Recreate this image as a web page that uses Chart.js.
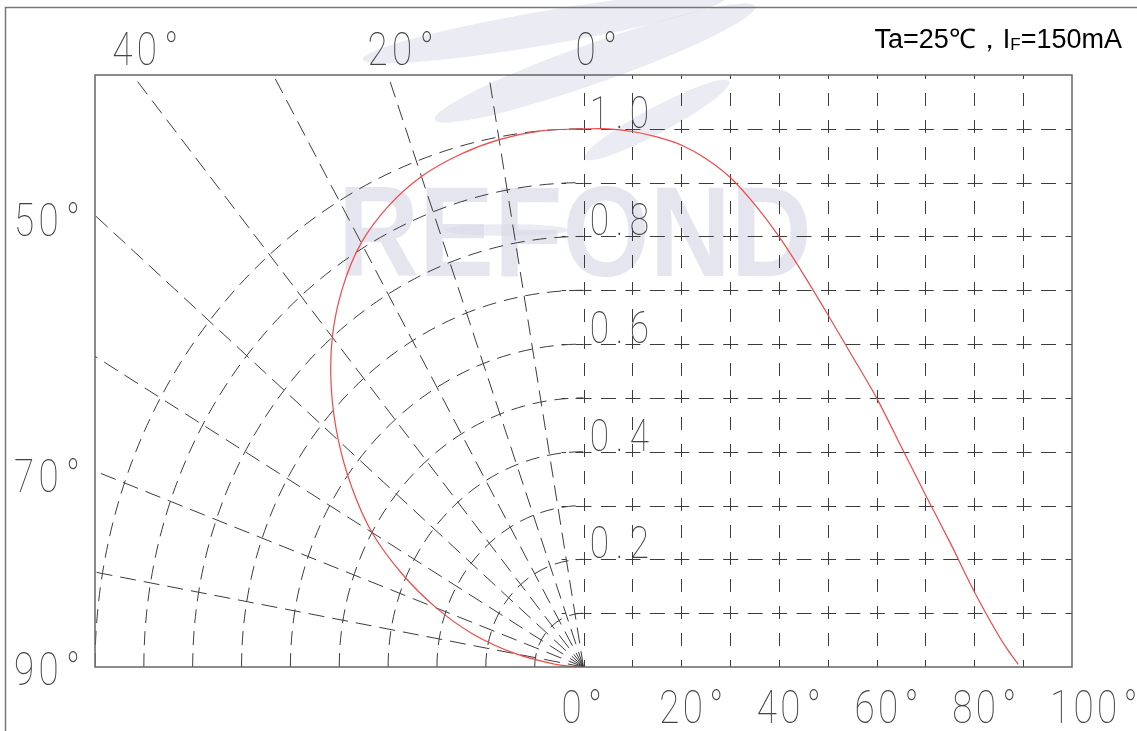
<!DOCTYPE html>
<html>
<head>
<meta charset="utf-8">
<title>Radiation pattern</title>
<script src="https://cdn.jsdelivr.net/npm/chart.js@4.4.1/dist/chart.umd.min.js"></script>
<style>
  html, body { margin: 0; padding: 0; background: #fff; }
  #wrap { width: 1137px; height: 731px; }
</style>
</head>
<body>
<div id="wrap"><canvas id="chart" width="1137" height="731"></canvas></div>
<script>
// ==============================
// DATA
// ==============================
// relative luminous intensity vs. angle
const angles = [0, 5, 10, 15, 20, 25, 30, 35, 40, 45, 50, 55, 60, 65, 70, 75, 80, 85, 87, 89];
const intensity = [1.0, 1.0, 0.995, 0.985, 0.97, 0.945, 0.91, 0.86, 0.8, 0.73, 0.655, 0.578, 0.5, 0.41, 0.32, 0.232, 0.14, 0.058, 0.03, 0.005];

// axis / grid labels
const bottomTicks = [0, 20, 40, 60, 80, 100];
const bottomLabels = ["0°", "20°", "40°", "60°", "80°", "100°"];
const radiusTicks = [0.2, 0.4, 0.6, 0.8, 1.0];
const radiusLabels = ["0.2", "0.4", "0.6", "0.8", "1.0"];
const polarLabelAngles = [0, 20, 40, 50, 70, 90];
const polarLabels = ["0°", "20°", "40°", "50°", "70°", "90°"];

const gridDegrees = [0, 10, 20, 30, 40, 50, 60, 70, 80, 90];
const gridLevels = [0.1, 0.2, 0.3, 0.4, 0.5, 0.6, 0.7, 0.8, 0.9, 1.0];
const spokeAngles = [10, 20, 30, 40, 50, 60, 70, 80];
const rings = [0.1, 0.2, 0.3, 0.4, 0.5, 0.6, 0.7, 0.8, 0.9, 1.0];

const conditionText = ["Ta=25℃，I", "F", "=150mA"];

// ==============================
// HELPERS
// ==============================
const rad = (d) => d * Math.PI / 180;

// the left half is the same curve in polar form; radius 1 = 100 x-units
const cartesianPoints = angles.map((a, i) => ({ x: a, y: intensity[i] }));
const polarPoints = angles.map((a, i) => ({
  x: -100 * intensity[i] * Math.sin(rad(a)),
  y: intensity[i] * Math.cos(rad(a)),
}));

const OUTER_FONT = '100 46px Roboto, "DejaVu Sans", sans-serif';
const INNER_FONT = '100 44px Roboto, "DejaVu Sans", sans-serif';
const SQUEEZE = 0.8;
const OUTER_CELL = 24.5;
const BOTTOM_CELL = 23.5;
const INNER_CELL = 20;

// CAD-like monospaced label: each char centred in its own cell
function monoText(ctx, str, firstCenter, baseline, cell) {
  [...str].forEach((ch, i) => {
    ctx.save();
    ctx.translate(firstCenter + i * cell, baseline);
    ctx.scale(SQUEEZE, 1);
    ctx.textAlign = "center";
    ctx.fillText(ch, 0, 0);
    ctx.restore();
  });
}

// ==============================
// PLUGINS
// ==============================
const backdrop = {
  id: "backdrop",
  beforeDatasetsDraw(chart) {
    const { ctx, chartArea: a, scales: { x, y } } = chart;
    const ox = x.getPixelForValue(0);
    const oy = y.getPixelForValue(0);
    const rx = ox - x.getPixelForValue(-100);
    const ry = oy - y.getPixelForValue(1);

    ctx.save();

    // faint logo watermark
    ctx.fillStyle = "rgba(222,223,235,0.6)";
    [[545, 28, 185, 17, -0.17], [595, 63, 170, 20, -0.34], [657, 120, 82, 13, -0.49], [507, 230, 62, 6, 0]]
      .forEach(([cx, cy, ex, ey, r]) => {
        ctx.beginPath();
        ctx.ellipse(cx, cy, ex, ey, r, 0, Math.PI * 2);
        ctx.fill();
      });
    ctx.fillStyle = "rgba(218,218,234,0.7)";
    ctx.font = 'bold 122px "Liberation Sans", sans-serif';
    ctx.textBaseline = "alphabetic";
    ctx.save();
    ctx.translate(338, 276);
    ctx.scale(0.92, 1.05);
    ctx.fillText("REFOND", 0, 0);
    ctx.restore();

    ctx.beginPath();
    ctx.rect(a.left, a.top, a.right - a.left, a.bottom - a.top);
    ctx.clip();

    ctx.strokeStyle = "#3c3c3c";
    ctx.lineWidth = 1;

    // cartesian grid, right half
    ctx.setLineDash([13, 14]);
    ctx.lineDashOffset = 6;
    ctx.beginPath();
    gridDegrees.forEach((d) => {
      const px = Math.round(x.getPixelForValue(d)) + 0.5;
      ctx.moveTo(px, oy);
      ctx.lineTo(px, a.top);
    });
    ctx.stroke();

    ctx.setLineDash([15, 9.45]);
    ctx.lineDashOffset = 7;
    ctx.beginPath();
    gridLevels.forEach((v) => {
      const py = Math.round(y.getPixelForValue(v)) + 0.5;
      ctx.moveTo(ox, py);
      ctx.lineTo(x.getPixelForValue(-4.5), py);
      ctx.moveTo(ox, py);
      ctx.lineTo(a.right, py);
    });
    ctx.stroke();

    // polar grid, left half
    ctx.setLineDash([16, 8]);
    ctx.lineDashOffset = 0;
    ctx.beginPath();
    spokeAngles.forEach((d) => {
      ctx.moveTo(ox, oy);
      ctx.lineTo(ox - Math.sin(rad(d)) * rx * 2, oy - Math.cos(rad(d)) * ry * 2);
    });
    ctx.stroke();

    ctx.setLineDash([14, 8]);
    rings.forEach((r) => {
      ctx.beginPath();
      ctx.ellipse(ox, oy, r * rx, r * ry, 0, Math.PI, Math.PI * 1.5);
      ctx.stroke();
    });

    ctx.restore();
  },
  afterDatasetsDraw(chart) {
    const { ctx, chartArea: a } = chart;
    ctx.save();
    ctx.strokeStyle = "#666";
    ctx.lineWidth = 1.5;
    ctx.strokeRect(a.left, a.top, a.right - a.left, a.bottom - a.top);

    // outer frame
    ctx.strokeStyle = "#777";
    ctx.beginPath();
    ctx.moveTo(5.5, 731);
    ctx.lineTo(5.5, 7.5);
    ctx.lineTo(1137, 7.5);
    ctx.stroke();
    ctx.restore();
  },
};

const labels = {
  id: "labels",
  afterDraw(chart) {
    const { ctx, chartArea: a, scales: { x, y } } = chart;
    const ox = x.getPixelForValue(0);
    const oy = y.getPixelForValue(0);
    const rx = ox - x.getPixelForValue(-100);
    const ry = oy - y.getPixelForValue(1);

    ctx.save();
    ctx.fillStyle = "#444";
    ctx.textBaseline = "alphabetic";
    ctx.font = OUTER_FONT;

    // bottom degree ticks
    bottomTicks.forEach((d, i) => {
      monoText(ctx, bottomLabels[i], x.getPixelForValue(d) - 12, 723, BOTTOM_CELL);
    });

    // polar angle labels where each spoke leaves the plot
    polarLabelAngles.forEach((d, i) => {
      const sx = Math.sin(rad(d)) * rx;
      const sy = Math.cos(rad(d)) * ry;
      const tTop = sy > 0 ? (oy - a.top) / sy : Infinity;
      const tLeft = sx > 0 ? (ox - a.left) / sx : Infinity;
      const str = polarLabels[i];
      const digits = str.length - 1;
      if (tTop <= tLeft) {
        const px = ox - sx * tTop;
        monoText(ctx, str, px - (digits - 1) * OUTER_CELL / 2 + 2, 65, OUTER_CELL);
      } else {
        const py = oy - sy * tLeft;
        monoText(ctx, str, 73 - digits * OUTER_CELL, Math.min(py + 21, 685), OUTER_CELL);
      }
    });

    // radius labels inside the plot
    ctx.font = INNER_FONT;
    radiusTicks.forEach((v, i) => {
      monoText(ctx, radiusLabels[i], ox + 16, y.getPixelForValue(v) - 1, INNER_CELL);
    });

    // test condition
    ctx.fillStyle = "#000";
    const big = '27px "Liberation Sans", Arial, sans-serif';
    const small = '17px "Liberation Sans", Arial, sans-serif';
    ctx.font = big;
    const w0 = ctx.measureText(conditionText[0]).width;
    const w2 = ctx.measureText(conditionText[2]).width;
    ctx.font = small;
    const w1 = ctx.measureText(conditionText[1]).width;
    const tx = 1122 - (w0 + w1 + w2);
    ctx.textAlign = "left";
    ctx.font = big;
    ctx.fillText(conditionText[0], tx, 48);
    ctx.font = small;
    ctx.fillText(conditionText[1], tx + w0, 50);
    ctx.font = big;
    ctx.fillText(conditionText[2], tx + w0 + w1, 48);
    ctx.restore();
  },
};

// ==============================
// CHART
// ==============================
const ctx = document.getElementById("chart").getContext("2d");

new Chart(ctx, {
  type: "scatter",
  data: {
    datasets: [
      {
        label: "Intensity (polar)",
        data: polarPoints,
        showLine: true,
        borderColor: "#f04848",
        borderWidth: 1.2,
        pointRadius: 0,
        tension: 0.35,
      },
      {
        label: "Intensity",
        data: cartesianPoints,
        showLine: true,
        borderColor: "#f04848",
        borderWidth: 1.2,
        pointRadius: 0,
        tension: 0.3,
      },
    ],
  },
  options: {
    responsive: false,
    devicePixelRatio: 1,
    animation: false,
    layout: { padding: { left: 95, right: 65, top: 75, bottom: 64 } },
    scales: {
      x: { type: "linear", min: -100, max: 100, display: false },
      y: { type: "linear", min: 0, max: 1.1, display: false },
    },
    plugins: {
      legend: { display: false },
      tooltip: { enabled: false },
    },
  },
  plugins: [backdrop, labels],
});
</script>
</body>
</html>
